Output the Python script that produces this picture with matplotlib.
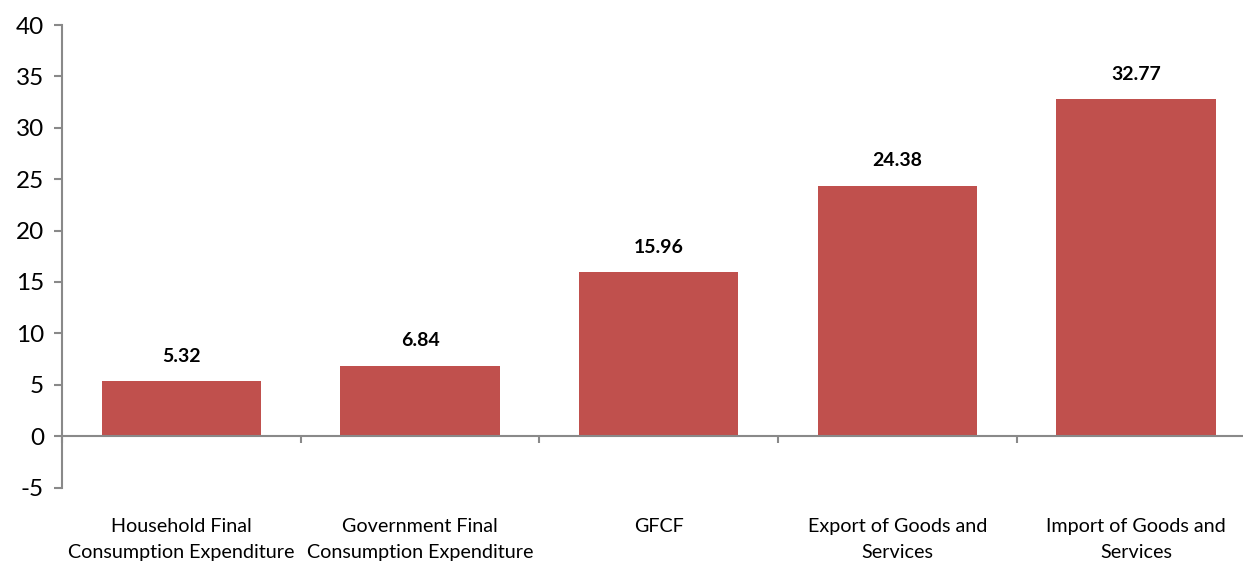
import numpy as np
import matplotlib
matplotlib.use("Agg")
import matplotlib.pyplot as plt
import matplotlib.transforms as mtransforms

plt.rcParams['font.family'] = ['Lato', 'DejaVu Sans']

# data
categories = ['Household Final\nConsumption Expenditure',
              'Government Final\nConsumption Expenditure',
              'GFCF',
              'Export of Goods and\nServices',
              'Import of Goods and\nServices']
values = [5.32, 6.84, 15.96, 24.38, 32.77]
y_ticks = [-5, 0, 5, 10, 15, 20, 25, 30, 35, 40]

bar_color = '#C0504D'
axis_color = '#898989'

fig = plt.figure(figsize=(12.43, 5.61), dpi=100)
ax = fig.add_axes([0.0499, 0.131, 0.960, 0.8244])

x = np.arange(len(categories))
ax.bar(x, values, width=0.667, color=bar_color, zorder=2)

ax.set_xlim(-0.5, len(categories) - 0.5)
ax.set_ylim(-5, 40)
ax.set_yticks(y_ticks)
ax.set_yticklabels([str(t) for t in y_ticks], fontsize=17.5)

# x axis drawn at zero, ticks at category boundaries
ax.spines['bottom'].set_position(('data', 0))
ax.spines['top'].set_visible(False)
ax.spines['right'].set_visible(False)
for s in ('left', 'bottom'):
    ax.spines[s].set_color(axis_color)
    ax.spines[s].set_linewidth(1.5)
ax.spines['bottom'].set_zorder(3)

ax.set_xticks(np.arange(-0.5, len(categories), 1.0))
ax.set_xticklabels([])
ax.tick_params(axis='x', direction='out', length=5, width=1.5, color=axis_color)
ax.tick_params(axis='y', direction='out', length=6, width=1.5, color=axis_color, pad=7)

# category labels below the plot
trans = mtransforms.blended_transform_factory(ax.transData, ax.transAxes)
for xi, lab in zip(x, categories):
    ax.text(xi, -0.066, lab, transform=trans, ha='center', va='top',
            fontsize=14.2, linespacing=1.62)

# value labels
for xi, v in zip(x, values):
    ax.annotate(f'{v:.2f}', (xi, v), xytext=(0, 18), textcoords='offset points',
                ha='center', va='center', fontsize=14, fontweight='bold')

fig.savefig('out.png', dpi=100)
